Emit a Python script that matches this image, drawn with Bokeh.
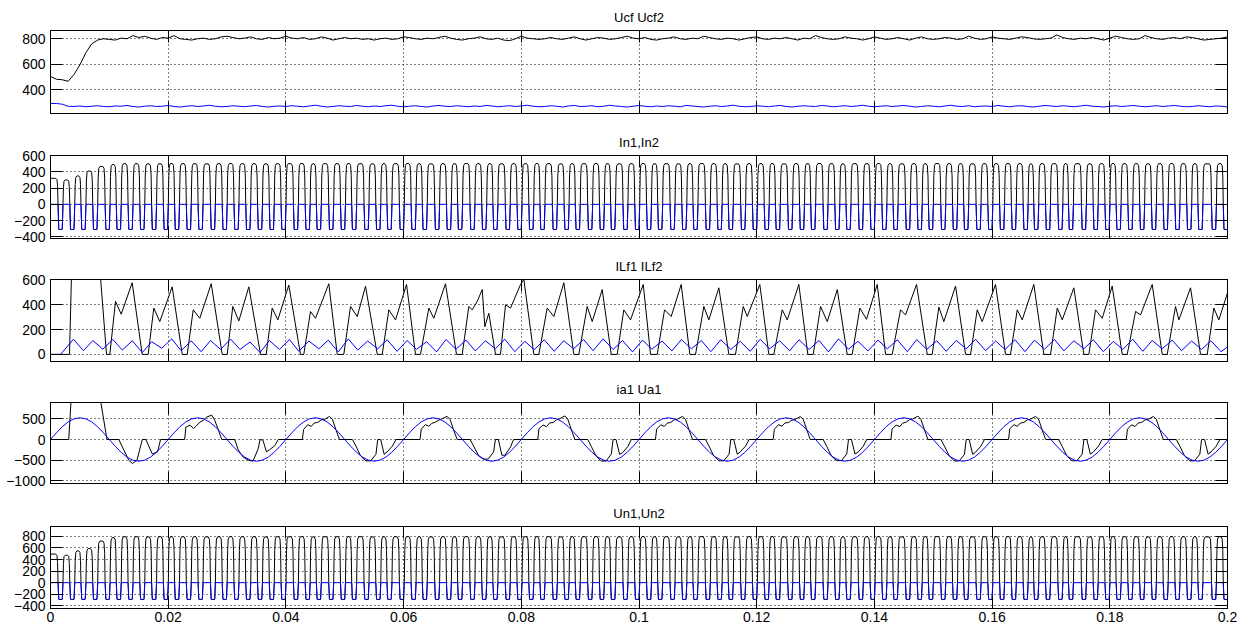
import numpy as np
from bokeh.plotting import figure
from bokeh.layouts import column
from bokeh.models import LinearAxis, FixedTicker, Range1d, AllLabels
from bokeh.embed import file_html
from bokeh.resources import INLINE

FONT = "Liberation Sans"
BLACK = "#000000"
BLUE = "#0000ff"

# ---------------- axes data ----------------
X_TICKS = [0, 0.02, 0.04, 0.06, 0.08, 0.1, 0.12, 0.14, 0.16, 0.18, 0.2]
X_TICK_LABELS = ["0", "0.02", "0.04", "0.06", "0.08", "0.1", "0.12", "0.14", "0.16", "0.18", "0.2"]
TITLES = ["Ucf Ucf2", "In1,In2", "ILf1 ILf2", "ia1 Ua1", "Un1,Un2"]
Y_TICKS = [[400, 600, 800],
           [-400, -200, 0, 200, 400, 600],
           [0, 200, 400, 600],
           [-1000, -500, 0, 500],
           [-400, -200, 0, 200, 400, 600, 800]]
Y_LIMITS = [(213, 865), (-421, 601), (-57, 603), (-1063, 894), (-447, 972)]

# ---------------- panel 1: Ucf (black), Ucf2 (blue), sampled every 1 ms ----------------
UCF1 = [504, 482, 478, 466, 520, 595, 690, 760, 790, 800, 795, 790, 805, 800, 825, 810, 820, 805, 795, 810,
        805, 825, 800, 795, 790, 800, 805, 795, 800, 815, 820, 810, 800, 805, 815, 800, 795, 810, 800, 805,
        820, 805, 800, 810, 795, 800, 815, 805, 790, 800, 810, 800, 805, 795, 800, 790, 800, 805, 795, 800,
        815, 810, 800, 795, 805, 800, 810, 820, 805, 795, 790, 800, 805, 815, 800, 795, 805, 790, 785, 800,
        820, 805, 800, 795, 800, 810, 800, 795, 805, 815, 800, 790, 800, 810, 805, 795, 800, 810, 820, 805,
        800, 810, 795, 790, 800, 805, 815, 800, 795, 805, 800, 820, 810, 800, 795, 805, 800, 790, 800, 810,
        815, 800, 795, 805, 800, 810, 800, 790, 805, 800, 825, 810, 800, 795, 800, 815, 805, 800, 790, 800,
        815, 805, 795, 800, 810, 800, 790, 805, 815, 800, 795, 800, 810, 805, 795, 800, 820, 805, 795, 800,
        815, 805, 800, 795, 805, 815, 810, 800, 795, 800, 805, 830, 810, 800, 795, 805, 800, 810, 800, 790,
        805, 820, 810, 800, 795, 800, 825, 810, 800, 795, 805, 810, 800, 815, 810, 800, 790, 795, 800, 805, 815]
UCF2 = [292, 292, 286, 270, 268, 272, 266, 270, 274, 268, 266, 272, 270, 276, 268, 264, 270, 274, 268, 270,
        276, 268, 264, 270, 274, 268, 272, 278, 270, 266, 268, 274, 270, 266, 272, 276, 268, 264, 270, 272,
        268, 274, 270, 266, 272, 278, 270, 264, 268, 274, 270, 268, 276, 270, 266, 272, 268, 274, 278, 270,
        266, 270, 274, 268, 264, 272, 276, 270, 268, 274, 270, 266, 272, 268, 276, 272, 266, 270, 274, 268,
        272, 278, 270, 266, 268, 274, 270, 264, 272, 276, 268, 270, 274, 266, 270, 278, 272, 268, 264, 270,
        276, 270, 266, 272, 268, 274, 270, 266, 276, 272, 268, 264, 270, 274, 268, 272, 278, 270, 266, 268,
        274, 270, 266, 272, 276, 268, 264, 270, 274, 270, 268, 276, 272, 266, 270, 274, 268, 272, 278, 270,
        266, 270, 274, 268, 272, 276, 270, 264, 268, 274, 270, 266, 272, 278, 270, 268, 274, 266, 270, 272,
        268, 276, 270, 266, 272, 274, 268, 264, 270, 276, 272, 268, 274, 270, 266, 272, 278, 270, 268, 264,
        270, 274, 268, 272, 276, 270, 266, 270, 274, 268, 272, 276, 270, 266, 268, 274, 270, 266, 272, 270, 264]

# ---------------- panels 2 and 5: pulse trains (dip centres in ms, plateau levels) ----------------
IN_DIPS_MS = [1.7, 3.7, 5.6, 7.6, 9.7, 11.6, 13.6, 15.6, 17.6, 19.6,
              21.5, 23.5, 25.5, 27.6, 29.6, 31.6, 33.6, 35.6, 37.6, 39.6,
              41.7, 43.7, 45.6, 47.7, 49.7, 51.6, 53.7, 55.7, 57.6, 59.7,
              61.7, 63.6, 65.7, 67.7, 69.6, 71.7, 73.7, 75.6, 77.7, 79.7,
              81.7, 83.6, 85.7, 87.7, 89.6, 91.7, 93.7, 95.6, 97.7, 99.7,
              101.7, 103.6, 105.7, 107.7, 109.6, 111.7, 113.7, 115.6, 117.7, 119.7,
              121.7, 123.6, 125.7, 127.7, 129.6, 131.7, 133.7, 135.6, 137.7, 139.7,
              141.7, 143.6, 145.7, 147.7, 149.6, 151.7, 153.7, 155.6, 157.7, 159.7,
              161.7, 163.7, 165.7, 167.5, 169.5, 171.6, 173.4, 175.6, 177.6, 179.6,
              181.5, 183.5, 185.5, 187.5, 189.5, 191.5, 193.5, 195.4, 197.7, 199.7]
IN1_LEVELS = [320, 300, 350, 410, 465, 490, 500, 500, 498, 500,
              502, 500, 500, 498, 500, 502, 500, 500, 498, 500,
              500, 502, 498, 500, 500, 502, 500, 498, 500, 500,
              502, 500, 498, 500, 500, 502, 500, 500, 498, 500,
              500, 502, 500, 498, 500, 500, 502, 500, 498, 500,
              502, 500, 500, 498, 500, 502, 500, 500, 498, 500,
              500, 502, 498, 500, 500, 502, 500, 498, 500, 500,
              502, 500, 498, 500, 500, 502, 500, 500, 498, 500,
              500, 502, 500, 498, 500, 500, 502, 500, 498, 500,
              502, 500, 500, 498, 500, 502, 500, 500, 498, 500, 500]
IN2_LOW = -310

UN_DIPS_MS = list(IN_DIPS_MS)
UN1_LEVELS = [495, 475, 550, 590, 720, 780, 795, 795, 792, 795,
              797, 795, 795, 792, 795, 797, 795, 795, 792, 795,
              795, 797, 792, 795, 795, 797, 795, 792, 795, 795,
              797, 795, 792, 795, 795, 797, 795, 795, 792, 795,
              795, 797, 795, 792, 795, 795, 797, 795, 792, 795,
              797, 795, 795, 792, 795, 797, 795, 795, 792, 795,
              795, 797, 792, 795, 795, 797, 795, 792, 795, 795,
              797, 795, 792, 795, 795, 797, 795, 795, 792, 795,
              795, 797, 795, 792, 795, 795, 797, 795, 792, 795,
              797, 795, 795, 792, 795, 797, 795, 795, 792, 795, 795]
UN2_LOW = -290

# ---------------- panel 3: ILf1 breakpoints (ms, value) and ILf2 extrema ----------------
ILF1_T_MS = [0, 3.23, 3.65, 8.2, 9.52, 10.08, 11.05, 12.01, 13.88, 15.58, 16.60, 17.55, 18.57, 20.68,
             22.38, 23.23, 24.25, 25.37, 27.31, 29.18, 30.03, 30.98, 32.00, 33.70, 35.69, 36.65, 37.67,
             38.63, 40.49, 42.48, 43.04, 44.18, 45.03, 47.29, 48.72, 49.84, 50.98, 52.12, 53.53, 55.52,
             56.37, 57.49, 58.63, 60.50, 62.02, 62.87, 64.29, 65.13, 67.12, 68.99, 69.96, 71.08, 71.66,
             72.51, 73.36, 73.80, 74.48, 75.62, 76.47, 77.32, 78.17, 79.87, 80.43, 82.13, 82.98, 84.40,
             85.53, 87.23, 88.93, 89.78, 91.20, 92.05, 93.75, 95.28, 96.30, 97.42, 98.56, 100.72, 101.96,
             103.10, 104.34, 105.47, 107.17, 108.64, 109.61, 111.02, 111.87, 113.57, 115.27, 116.40,
             117.71, 118.39, 120.53, 122.06, 122.91, 124.34, 125.19, 127.16, 128.69, 129.61, 130.85,
             131.99, 133.69, 135.38, 136.23, 137.53, 138.66, 140.48, 141.90, 143.03, 144.44, 145.29,
             147.16, 148.98, 149.83, 150.95, 151.80, 153.79, 155.49, 156.34, 157.47, 158.32, 160.58,
             162.28, 163.13, 164.27, 165.12, 167.09, 168.79, 169.93, 171.07, 171.92, 173.89, 175.59,
             176.44, 177.58, 178.71, 180.41, 182.11, 182.96, 184.38, 185.22, 187.21, 188.91, 189.76,
             191.17, 191.73, 193.72, 195.42, 196.56, 197.68, 198.53, 200.0]
ILF1_V = [0, 0, 800, 800,
          0, 0, 427, 324, 577,
          0, 0, 373, 264, 544,
          0, 0, 359, 291, 569,
          0, 0, 386, 269, 544,
          0, 0, 373, 278, 558,
          0, 0, 345, 291, 569,
          0, 0, 386, 305, 549,
          0, 0, 359, 278, 563,
          0, 0, 373, 291, 569,
          0, 0, 386, 359, 427, 522, 223, 332,
          0, 0, 400, 373, 563, 604,
          0, 0, 373, 305, 577,
          0, 0, 386, 264, 522,
          0, 0, 359, 278, 563,
          0, 0, 359, 305, 563,
          0, 0, 386, 278, 536,
          0, 0, 386, 305, 563,
          0, 0, 359, 278, 563,
          0, 0, 386, 264, 522,
          0, 0, 373, 283, 563,
          0, 0, 359, 318, 563,
          0, 0, 381, 264, 550,
          0, 0, 359, 264, 563,
          0, 0, 359, 278, 563,
          0, 0, 373, 278, 536,
          0, 0, 359, 291, 550,
          0, 0, 346, 318, 563,
          0, 0, 386, 278, 536,
          0, 0, 373, 278,
          495]

ILF2_T_MS = [0, 1.7, 3.9, 5.6, 7.2, 8.9, 10.6, 12.2, 13.9, 15.6, 17.2, 18.9, 20.6, 22.2, 23.9, 25.6,
             27.2, 28.9, 30.6, 32.2, 33.9, 35.6, 37.2, 38.9, 40.6, 42.2, 43.9, 45.6, 47.2, 48.9, 50.6,
             52.2, 53.9, 55.6, 57.2, 58.9, 60.6, 62.2, 63.9, 65.6, 67.2, 68.9, 70.6, 72.2, 73.9, 75.6,
             77.2, 78.9, 80.6, 82.2, 83.9, 85.6, 87.2, 88.9, 90.6, 92.2, 93.9, 95.6, 97.2, 98.9, 100.6,
             102.2, 103.9, 105.6, 107.2, 108.9, 110.6, 112.2, 113.9, 115.6, 117.2, 118.9, 120.6, 122.2,
             123.9, 125.6, 127.2, 128.9, 130.6, 132.2, 133.9, 135.6, 137.2, 138.9, 140.6, 142.2, 143.9,
             145.6, 147.2, 148.9, 150.6, 152.2, 153.9, 155.6, 157.2, 158.9, 160.6, 162.2, 163.9, 165.6,
             167.2, 168.9, 170.6, 172.2, 173.9, 175.6, 177.2, 178.9, 180.6, 182.2, 183.9, 185.6, 187.2,
             188.9, 190.6, 192.2, 193.9, 195.6, 197.2, 198.9, 200.0]
ILF2_V = [0, 0,
          122, 30, 112, 42, 120, 35, 110, 15, 102, 50, 125, 30, 110, 22, 112, 40, 124, 40, 100, 15,
          112, 40, 120, 25, 108, 45, 115, 20, 125, 35, 108, 45, 118, 25, 112, 40, 102, 20, 120, 42,
          115, 28, 110, 45, 122, 22, 105, 38, 118, 25, 110, 45, 120, 30, 125, 40, 112, 20, 115, 42,
          108, 28, 120, 45, 112, 22, 118, 40, 105, 25, 122, 45, 110, 30, 118, 40, 112, 20, 125, 42,
          105, 28, 115, 45, 118, 22, 120, 40, 110, 25, 112, 45, 122, 30, 108, 40, 118, 22, 115, 42,
          120, 28, 110, 45, 118, 22, 105, 40, 122, 25, 112, 45, 115, 30, 108, 40, 110, 22,
          60]

# ---------------- panel 4: ia1 (black) stepped current, Ua1 (blue) sampled every 1 ms ----------------
IA1_FIRST_T_MS = [0, 3.1, 3.6, 8.2, 9.6, 11.6, 13.3, 13.9, 14.7, 15.6, 16.2, 17.3, 18.2, 18.7]
IA1_FIRST_V = [0, 0, 1200, 1200, 0, 0, -500, -580, -500, 0, 0, -350, -300, 0]
IA1_REL_MS = [0.0, 2.8, 3.0, 3.7, 4.3, 4.8, 5.4, 6.0, 6.5, 7.4, 7.9, 8.5, 9.1,
              11.3, 11.9, 12.7, 13.6, 14.4, 15.3, 15.6, 16.1, 16.7, 17.2, 18.1, 18.7]
IA1_CYCLE_START_MS = [20, 40, 60, 80, 100, 120, 140, 160, 180]
IA1_CYCLES = [
    [0, 0, 300, 347, 266, 330, 420, 467, 540, 588, 467, 240, 0, 0, -250, -420, -500, -524, -220, 0, -16, -298, -250, -150, 0],
    [0, 0, 240, 357, 317, 397, 413, 476, 480, 556, 492, 238, 0, 0, -159, -397, -516, -516, -357, 0, 0, -357, -300, -159, 0],
    [0, 0, 250, 360, 320, 390, 420, 470, 500, 560, 480, 230, 0, 0, -160, -380, -476, -470, -300, 0, 0, -380, -380, -200, 0],
    [0, 0, 260, 350, 310, 400, 410, 480, 500, 570, 490, 240, 0, 0, -170, -400, -520, -520, -350, 0, 0, -360, -320, -170, 0],
    [0, 0, 250, 355, 315, 395, 415, 475, 490, 560, 485, 235, 0, 0, -160, -395, -515, -515, -355, 0, 0, -355, -300, -160, 0],
    [0, 0, 245, 360, 320, 400, 410, 470, 485, 555, 490, 240, 0, 0, -165, -400, -510, -510, -350, 0, 0, -350, -310, -165, 0],
    [0, 0, 250, 350, 310, 395, 420, 480, 495, 565, 488, 238, 0, 0, -160, -390, -520, -518, -360, 0, 0, -360, -305, -160, 0],
    [0, 0, 255, 358, 318, 398, 412, 476, 488, 558, 490, 236, 0, 0, -162, -398, -514, -512, -356, 0, 0, -356, -300, -158, 0],
    [0, 0, 248, 355, 315, 396, 414, 474, 486, 556, 492, 238, 0, 0, -160, -396, -516, -516, -354, 0, 0, -354, -302, -160, 0],
]
UA1 = [0, 162, 309, 425, 499, 525, 499, 425, 309, 162, 0, -162, -309, -425, -499, -525, -499, -425, -309, -162,
       0, 162, 309, 425, 499, 525, 499, 425, 309, 162, 0, -162, -309, -425, -499, -525, -499, -425, -309, -162,
       0, 162, 309, 425, 499, 525, 499, 425, 309, 162, 0, -162, -309, -425, -499, -525, -499, -425, -309, -162,
       0, 162, 309, 425, 499, 525, 499, 425, 309, 162, 0, -162, -309, -425, -499, -525, -499, -425, -309, -162,
       0, 162, 309, 425, 499, 525, 499, 425, 309, 162, 0, -162, -309, -425, -499, -525, -499, -425, -309, -162,
       0, 162, 309, 425, 499, 525, 499, 425, 309, 162, 0, -162, -309, -425, -499, -525, -499, -425, -309, -162,
       0, 162, 309, 425, 499, 525, 499, 425, 309, 162, 0, -162, -309, -425, -499, -525, -499, -425, -309, -162,
       0, 162, 309, 425, 499, 525, 499, 425, 309, 162, 0, -162, -309, -425, -499, -525, -499, -425, -309, -162,
       0, 162, 309, 425, 499, 525, 499, 425, 309, 162, 0, -162, -309, -425, -499, -525, -499, -425, -309, -162,
       0, 162, 309, 425, 499, 525, 499, 425, 309, 162, 0, -162, -309, -425, -499, -525, -499, -425, -309, -162,
       0]

# ---------------- layout sizes ----------------
FRAME_W = 1177
FRAME_H = [83, 83, 82, 81, 82]
BORDER_TOP = [30, 28, 28, 28, 28]
BORDER_BOTTOM = [14, 13, 13, 15, 17]
TITLE_STANDOFF = [11, 11, 11, 11, 11]


def pulse_train(dips_ms, levels, low):
    t, v = [0.0], [float(levels[0])]
    for k, c in enumerate(dips_ms):
        a, b = levels[k], levels[k + 1]
        t += [c - 0.8, c - 0.6, c - 0.5, c - 0.42, c - 0.3, c + 0.3, c + 0.42, c + 0.5, c + 0.6, c + 0.8]
        v += [a, 0.95 * a, 0.7 * a, 0.0, low, low, 0.0, 0.7 * b, 0.95 * b, b]
    t.append(max(200.0, t[-1] + 0.1))
    v.append(levels[-1])
    return np.array(t) / 1000.0, np.array(v, dtype=float)


def dip_train(dips_ms, low):
    t, v = [0.0], [0.0]
    for c in dips_ms:
        t += [c - 0.42, c - 0.3, c - 0.2, c + 0.2, c + 0.3, c + 0.42]
        v += [0.0, 0.95 * low, low, low, 0.95 * low, 0.0]
    t.append(max(200.0, t[-1] + 0.1))
    v.append(0.0)
    return np.array(t) / 1000.0, np.array(v, dtype=float)


def style_axis(ax, ticks, show_labels, standoff=5, overrides=None):
    ax.ticker = FixedTicker(ticks=ticks)
    ax.major_tick_in = 12
    ax.major_tick_out = 0
    ax.minor_tick_line_color = None
    ax.major_tick_line_color = BLACK
    ax.major_tick_line_width = 1
    ax.axis_line_color = BLACK
    ax.axis_line_width = 1
    ax.major_label_text_font = FONT
    if show_labels:
        if overrides:
            ax.major_label_overrides = overrides
        ax.major_label_policy = AllLabels()
        ax.major_label_text_color = BLACK
        ax.major_label_text_font_size = "14px"
        ax.major_label_standoff = standoff
    else:
        # tick marks only: labels are not drawn at all
        ax.major_label_text_color = None
        ax.major_label_text_font_size = "1px"
        ax.major_label_standoff = 0


def make_panel(i, last):
    p = figure(frame_width=FRAME_W, frame_height=FRAME_H[i],
               x_range=Range1d(0, 0.2), y_range=Range1d(*Y_LIMITS[i]),
               output_backend="svg", toolbar_location=None,
               min_border_left=50, min_border_right=21,
               min_border_top=BORDER_TOP[i], min_border_bottom=BORDER_BOTTOM[i],
               title=TITLES[i])
    p.title.align = "center"
    p.title.text_font = FONT
    p.title.text_font_size = "13px"
    p.title.text_font_style = "normal"
    p.title.text_color = BLACK
    p.title.standoff = TITLE_STANDOFF[i]
    p.outline_line_color = BLACK
    p.outline_line_alpha = 1.0
    p.background_fill_color = "white"
    p.border_fill_color = "white"

    overrides = {t: lab for t, lab in zip(X_TICKS, X_TICK_LABELS)}
    style_axis(p.xaxis[0], X_TICKS, last, standoff=3, overrides=overrides)
    style_axis(p.yaxis[0], Y_TICKS[i], True, standoff=5)

    top = LinearAxis()
    style_axis(top, X_TICKS, False)
    p.add_layout(top, "above")
    right = LinearAxis()
    style_axis(right, Y_TICKS[i], False)
    p.add_layout(right, "right")

    p.xgrid.ticker = FixedTicker(ticks=X_TICKS)
    p.ygrid.ticker = FixedTicker(ticks=Y_TICKS[i])
    for g in (p.xgrid, p.ygrid):
        g.grid_line_color = BLACK
        g.grid_line_alpha = 1.0
        g.grid_line_dash = "1 3"
        g.grid_line_width = 1
    return p


figs = [make_panel(i, i == 4) for i in range(5)]

# panel 1
figs[0].line(np.arange(len(UCF1)) / 1000.0, UCF1, line_color=BLACK, line_width=1)
figs[0].line(np.arange(len(UCF2)) / 1000.0, UCF2, line_color=BLUE, line_width=1)

# panel 2
tb, vb = pulse_train(IN_DIPS_MS, IN1_LEVELS, IN2_LOW)
figs[1].line(tb, vb, line_color=BLACK, line_width=1)
tl, vl = dip_train(IN_DIPS_MS, IN2_LOW)
figs[1].line(tl, vl, line_color=BLUE, line_width=1)

# panel 3
n1 = min(len(ILF1_T_MS), len(ILF1_V))
figs[2].line(np.array(ILF1_T_MS[:n1]) / 1000.0, ILF1_V[:n1], line_color=BLACK, line_width=1)
n2 = min(len(ILF2_T_MS), len(ILF2_V))
figs[2].line(np.array(ILF2_T_MS[:n2]) / 1000.0, ILF2_V[:n2], line_color=BLUE, line_width=1)

# panel 4
ia_t = list(IA1_FIRST_T_MS)
ia_v = list(IA1_FIRST_V)
for start, vals in zip(IA1_CYCLE_START_MS, IA1_CYCLES):
    ia_t += [start + r for r in IA1_REL_MS]
    ia_v += vals
ia_t.append(200.0)
ia_v.append(0)
figs[3].line(np.array(ia_t) / 1000.0, ia_v, line_color=BLACK, line_width=1)
figs[3].line(np.arange(len(UA1)) / 1000.0, UA1, line_color=BLUE, line_width=1)

# panel 5
tb, vb = pulse_train(UN_DIPS_MS, UN1_LEVELS, UN2_LOW)
figs[4].line(tb, vb, line_color=BLACK, line_width=1)
tl, vl = dip_train(UN_DIPS_MS, UN2_LOW)
figs[4].line(tl, vl, line_color=BLUE, line_width=1)

p = column(*figs, spacing=0)
open("out.html", "w").write(file_html(p, INLINE))
